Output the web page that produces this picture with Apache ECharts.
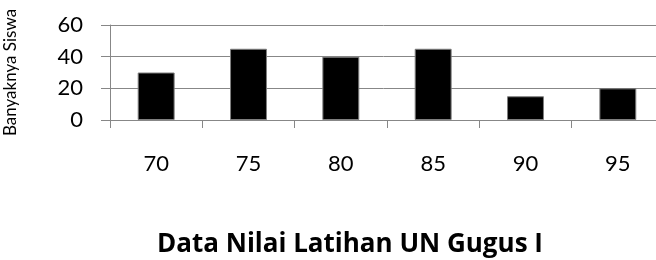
<!DOCTYPE html>
<html>
<head>
<meta charset="utf-8">
<script src="https://cdn.jsdelivr.net/npm/echarts@6/dist/echarts.min.js"></script>
<style>
html,body{margin:0;padding:0;background:#fff;overflow:hidden;}
#c{width:656px;height:260px;}
</style>
</head>
<body>
<div id="c"></div>
<script>
var categories = ['70', '75', '80', '85', '90', '95'];
var values = [30, 45, 40, 45, 15, 20];
var yTicks = [0, 20, 40, 60];
var titleText = 'Data Nilai Latihan UN Gugus I';
var yName = 'Banyaknya Siswa';

var FONT = 'Lato, "Open Sans", sans-serif';
var TFONT = '"Open Sans", sans-serif';
var chart = echarts.init(document.getElementById('c'), null, {renderer: 'canvas'});
chart.setOption({
  animation: false,
  backgroundColor: '#ffffff',
  graphic: [{
    type: 'text',
    x: 350,
    y: 245,
    style: {
      text: titleText,
      textAlign: 'center',
      textVerticalAlign: 'middle',
      fontFamily: TFONT,
      fontWeight: 'bold',
      fontSize: 26,
      fill: '#000'
    }
  }],
  grid: {left: 110, width: 554, top: 25, height: 95, containLabel: false, outerBoundsMode: 'none'},
  xAxis: {
    type: 'category',
    data: categories,
    axisLine: {show: true, lineStyle: {color: '#878787', width: 1}},
    axisTick: {show: true, length: 8, alignWithLabel: false, lineStyle: {color: '#878787'}},
    axisLabel: {margin: 33, fontFamily: FONT, fontSize: 22, color: '#000'},
    splitLine: {show: false}
  },
  yAxis: {
    type: 'value',
    min: yTicks[0],
    max: yTicks[yTicks.length - 1],
    interval: 20,
    name: yName,
    nameLocation: 'middle',
    nameGap: 91,
    nameRotate: 90,
    nameTextStyle: {fontFamily: FONT, fontSize: 17, color: '#000'},
    axisLine: {show: true, lineStyle: {color: '#878787', width: 1}},
    axisTick: {show: true, length: 9, lineStyle: {color: '#878787'}},
    axisLabel: {margin: 27, fontFamily: FONT, fontSize: 22, color: '#000'},
    splitLine: {show: true, lineStyle: {color: '#878787', width: 1}}
  },
  series: [{
    type: 'bar',
    data: values,
    barWidth: '40%',
    itemStyle: {color: '#000', borderColor: '#7f7f7f', borderWidth: 1}
  }]
});
</script>
</body>
</html>
